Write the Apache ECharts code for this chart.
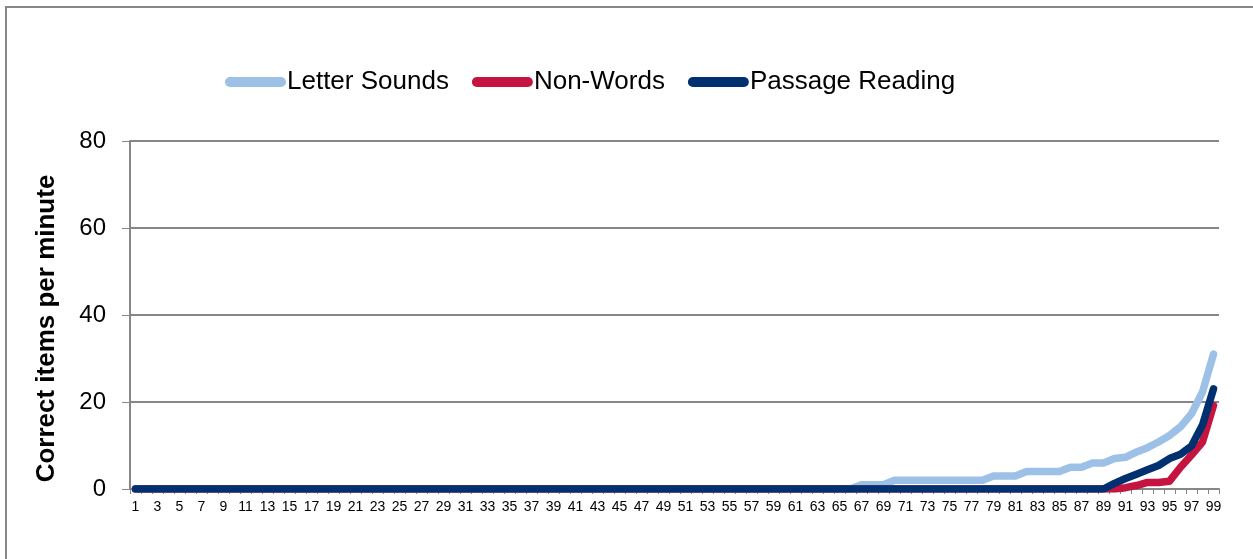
<!DOCTYPE html>
<html>
<head>
<meta charset="utf-8">
<script src="https://cdn.jsdelivr.net/npm/echarts@6/dist/echarts.min.js"></script>
<style>
html,body{margin:0;padding:0;background:#fff;}
#chart{width:1253px;height:559px;}
</style>
</head>
<body>
<div id="chart"></div>
<script>
const categories = [
 '1','2','3','4','5','6','7','8','9','10','11','12','13','14','15','16','17','18','19','20',
 '21','22','23','24','25','26','27','28','29','30','31','32','33','34','35','36','37','38','39','40',
 '41','42','43','44','45','46','47','48','49','50','51','52','53','54','55','56','57','58','59','60',
 '61','62','63','64','65','66','67','68','69','70','71','72','73','74','75','76','77','78','79','80',
 '81','82','83','84','85','86','87','88','89','90','91','92','93','94','95','96','97','98','99'
];
const seriesNames = ['Letter Sounds', 'Non-Words', 'Passage Reading'];
const letterSounds = [
 0,0,0,0,0,0,0,0,0,0, 0,0,0,0,0,0,0,0,0,0,
 0,0,0,0,0,0,0,0,0,0, 0,0,0,0,0,0,0,0,0,0,
 0,0,0,0,0,0,0,0,0,0, 0,0,0,0,0,0,0,0,0,0,
 0,0,0,0,0,0,1,1,1,2, 2,2,2,2,2,2,2,2,3,3,
 3,4,4,4,4,5,5,6,6,7, 7.3,8.5,9.5,10.8,12.3,14.3,17.3,22.3,31
];
const nonWords = [
 0,0,0,0,0,0,0,0,0,0, 0,0,0,0,0,0,0,0,0,0,
 0,0,0,0,0,0,0,0,0,0, 0,0,0,0,0,0,0,0,0,0,
 0,0,0,0,0,0,0,0,0,0, 0,0,0,0,0,0,0,0,0,0,
 0,0,0,0,0,0,0,0,0,0, 0,0,0,0,0,0,0,0,0,0,
 0,0,0,0,0,0,0,0,0,0, 0.3,0.8,1.5,1.5,1.8,5,7.8,10.8,19.2
];
const passageReading = [
 0,0,0,0,0,0,0,0,0,0, 0,0,0,0,0,0,0,0,0,0,
 0,0,0,0,0,0,0,0,0,0, 0,0,0,0,0,0,0,0,0,0,
 0,0,0,0,0,0,0,0,0,0, 0,0,0,0,0,0,0,0,0,0,
 0,0,0,0,0,0,0,0,0,0, 0,0,0,0,0,0,0,0,0,0,
 0,0,0,0,0,0,0,0,0,1.3, 2.4,3.4,4.4,5.4,7,8,9.9,14.7,23
];
const yTicks = [0, 20, 40, 60, 80];
const colors = ['#9dc1e6', '#c5143f', '#00306f'];

const chart = echarts.init(document.getElementById('chart'), null, {renderer: 'canvas'});
const font = '"Liberation Sans", Arial, sans-serif';
const iconPath = 'path://M5,0 L56,0 A5,5 0 0 1 56,10 L5,10 A5,5 0 0 1 5,0 Z';
const mk = (name, data, color) => ({
  name, type: 'line', data, color,
  symbol: 'none', smooth: false,
  lineStyle: {width: 7.5, color, cap: 'round', join: 'round'},
  emphasis: {disabled: true},
  animation: false
});
chart.setOption({
  animation: false,
  backgroundColor: '#fff',
  graphic: [{
    type: 'rect', shape: {x: 6, y: 7, width: 1260, height: 560},
    style: {fill: 'none', stroke: '#868686', lineWidth: 2}, silent: true, z: -1
  }],
  legend: {
    left: 220, top: 64,
    itemWidth: 61, itemHeight: 10, itemGap: 23,
    icon: iconPath,
    textStyle: {fontFamily: font, fontSize: 26, color: '#000', padding: [0,0,0,-4]},
    data: seriesNames
  },
  grid: {left: 130, right: 34, top: 141, bottom: 70, containLabel: false},
  xAxis: {
    type: 'category', data: categories, boundaryGap: true,
    axisLine: {lineStyle: {color: '#868686', width: 2}},
    axisTick: {show: true, interval: 0, length: 5, lineStyle: {color: '#868686', width: 1}},
    axisLabel: {interval: 1, fontFamily: font, fontSize: 14, color: '#000', margin: 11},
    splitLine: {show: false}
  },
  yAxis: {
    type: 'value', min: yTicks[0], max: yTicks[yTicks.length-1], interval: 20,
    name: 'Correct items per minute', nameLocation: 'middle', nameGap: 70,
    nameTextStyle: {fontFamily: font, fontSize: 26, fontWeight: 'bold', color: '#000', padding: [0, 27, 0, 0]},
    axisLine: {show: true, lineStyle: {color: '#868686', width: 2}},
    axisTick: {show: true, length: 8, lineStyle: {color: '#868686', width: 1}},
    axisLabel: {fontFamily: font, fontSize: 24, color: '#000', margin: 24},
    splitLine: {show: true, lineStyle: {color: '#868686', width: 2}}
  },
  series: [
    mk(seriesNames[0], letterSounds, colors[0]),
    mk(seriesNames[1], nonWords, colors[1]),
    mk(seriesNames[2], passageReading, colors[2])
  ]
});
</script>
</body>
</html>
